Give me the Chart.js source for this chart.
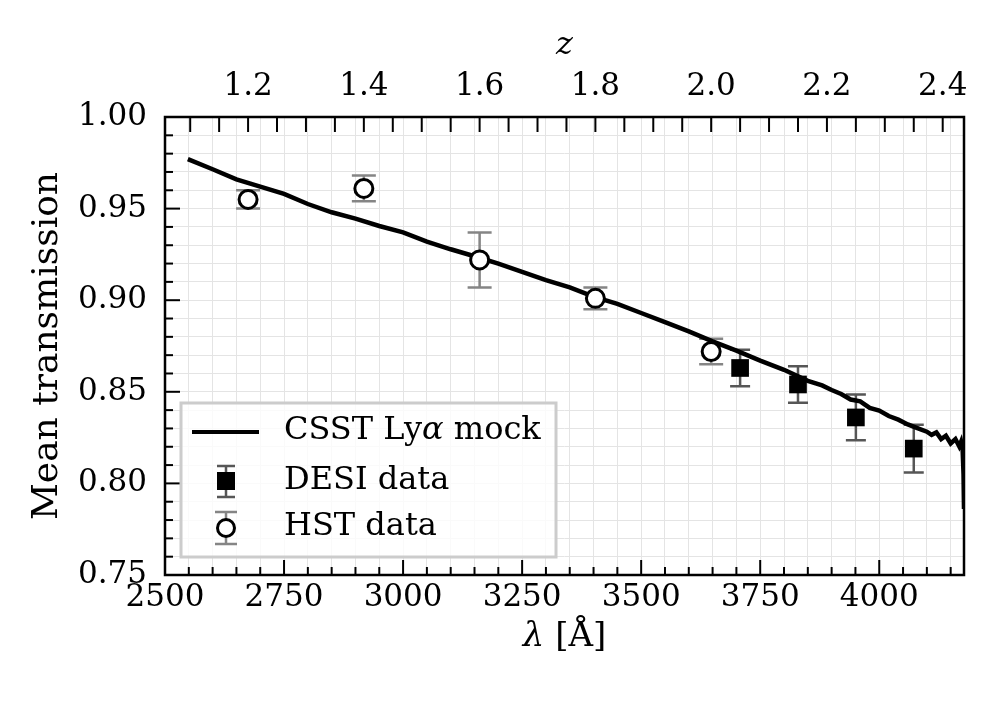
<!DOCTYPE html>
<html>
<head>
<meta charset="utf-8">
<script src="https://cdn.jsdelivr.net/npm/chart.js@4.4.1/dist/chart.umd.min.js"></script>
<style>
  html, body { margin: 0; padding: 0; background: #fff; }
  #c { display: block; }
</style>
</head>
<body>
<canvas id="c" width="996" height="713"></canvas>
<script>
// Lyman alpha rest wavelength, used to map z <-> lambda
const LYA = 1215.67;

// CSST Lya mock mean transmission curve
const mockLambda = [2548, 2600, 2650, 2700, 2750, 2800, 2850, 2900, 2950, 3000,
  3050, 3100, 3150, 3200, 3250, 3300, 3350, 3400, 3450, 3500,
  3550, 3600, 3650, 3700, 3750, 3800, 3850, 3880, 3900, 3920, 3940,
  3960, 3980, 4000, 4020, 4040, 4060, 4080, 4100, 4110, 4120,
  4130, 4140, 4150, 4160, 4168, 4172, 4175, 4177, 4178];
const mockTrans = [0.977, 0.9715, 0.966, 0.962, 0.958, 0.9525, 0.948, 0.9445, 0.9405, 0.937,
  0.932, 0.9278, 0.924, 0.920, 0.9155, 0.911, 0.907, 0.902, 0.898, 0.893,
  0.888, 0.883, 0.8775, 0.8725, 0.867, 0.862, 0.856, 0.8535, 0.851, 0.8488, 0.8458,
  0.8448, 0.8412, 0.8398, 0.8368, 0.8348, 0.8322, 0.8302, 0.8282, 0.8265, 0.8278,
  0.8242, 0.826, 0.8218, 0.8242, 0.8202, 0.8228, 0.8192, 0.805, 0.786];

// HST points
const hstZ = [1.2, 1.4, 1.6, 1.8, 2.0];
const hstTrans = [0.955, 0.961, 0.922, 0.901, 0.872];
const hstErr = [0.005, 0.007, 0.015, 0.006, 0.007];

// DESI points
const desiZ = [2.05, 2.15, 2.25, 2.35];
const desiTrans = [0.863, 0.854, 0.836, 0.819];
const desiErr = [0.010, 0.010, 0.0125, 0.013];

// ticks
const xMin = 2500, xMax = 4178;
const yMin = 0.75, yMax = 1.00;
const xLabelTicks = [2500, 2750, 3000, 3250, 3500, 3750, 4000];
const yLabelTicks = [0.75, 0.80, 0.85, 0.90, 0.95, 1.00];
const zLabelTicks = [1.2, 1.4, 1.6, 1.8, 2.0, 2.2, 2.4];
const xMinorStep = 50, yMinorStep = 0.01, zMinorStep = 0.05;

const FONT = "'DejaVu Serif', serif";

const xTickValues = [];
for (let v = xMin; v <= xMax; v += xMinorStep) xTickValues.push(v);
const yTickValues = [];
for (let i = Math.round(yMin / yMinorStep); i <= Math.round(yMax / yMinorStep); i++) yTickValues.push(+(i * yMinorStep).toFixed(2));
const zTickValues = [];
for (let i = 22; i <= 48; i++) {
  const z = +(i * zMinorStep).toFixed(2);
  if (LYA * (1 + z) >= xMin && LYA * (1 + z) <= xMax) zTickValues.push(z);
}

const isMajorZ = z => zLabelTicks.some(m => Math.abs(m - z) < 1e-6);
const isMajorY = v => yLabelTicks.some(m => Math.abs(m - v) < 1e-6);

// error bars drawn behind the markers
const errorBars = {
  id: 'errorBars',
  beforeDatasetsDraw(chart) {
    const { ctx, scales: { x, y } } = chart;
    const sets = [
      { z: hstZ, t: hstTrans, e: hstErr, color: '#858585', cap: 12 },
      { z: desiZ, t: desiTrans, e: desiErr, color: '#565656', cap: 10 }
    ];
    ctx.save();
    ctx.lineWidth = 2.5;
    sets.forEach(s => {
      ctx.strokeStyle = s.color;
      s.z.forEach((z, i) => {
        const px = x.getPixelForValue(LYA * (1 + z));
        const y1 = y.getPixelForValue(s.t[i] + s.e[i]);
        const y2 = y.getPixelForValue(s.t[i] - s.e[i]);
        ctx.beginPath();
        ctx.moveTo(px, y1); ctx.lineTo(px, y2);
        ctx.moveTo(px - s.cap, y1); ctx.lineTo(px + s.cap, y1);
        ctx.moveTo(px - s.cap, y2); ctx.lineTo(px + s.cap, y2);
        ctx.stroke();
      });
    });
    ctx.restore();
  }
};

// frame with inward ticks (matplotlib style)
const frameTicks = {
  id: 'frameTicks',
  afterDatasetsDraw(chart) {
    const { ctx, chartArea: a, scales: { x, y, x2 } } = chart;
    ctx.save();
    ctx.strokeStyle = '#000';
    ctx.lineWidth = 2;
    const seg = (x1, y1, x2_, y2) => { ctx.beginPath(); ctx.moveTo(x1, y1); ctx.lineTo(x2_, y2); ctx.stroke(); };
    xTickValues.forEach(v => {
      const px = x.getPixelForValue(v);
      seg(px, a.bottom, px, a.bottom - (xLabelTicks.includes(v) ? 15 : 8));
    });
    yTickValues.forEach(v => {
      const py = y.getPixelForValue(v);
      seg(a.left, py, a.left + (isMajorY(v) ? 15 : 8), py);
    });
    zTickValues.forEach(z => {
      const px = x2.getPixelForValue(LYA * (1 + z));
      seg(px, a.top, px, a.top + 15);
    });
    ctx.lineWidth = 2.5;
    ctx.strokeRect(a.left, a.top, a.right - a.left, a.bottom - a.top);
    ctx.restore();
  }
};

// legend box and the bottom axis label
const legendAndLabel = {
  id: 'legendAndLabel',
  afterDraw(chart) {
    const { ctx, chartArea: a } = chart;
    ctx.save();
    // bottom label: italic lambda + [Å]
    ctx.font = `italic 34px ${FONT}`;
    const w1 = ctx.measureText('λ').width;
    ctx.font = `34px ${FONT}`;
    const w2 = ctx.measureText(' [Å]').width;
    const cx = (a.left + a.right) / 2;
    let sx = cx - (w1 + w2) / 2;
    ctx.fillStyle = '#000';
    ctx.textBaseline = 'middle';
    ctx.textAlign = 'left';
    ctx.font = `italic 34px ${FONT}`;
    ctx.fillText('λ', sx, 637);
    ctx.font = `34px ${FONT}`;
    ctx.fillText(' [Å]', sx + w1, 637);

    // legend frame
    ctx.fillStyle = 'rgba(255,255,255,0.8)';
    ctx.fillRect(181, 403, 375, 154);
    ctx.strokeStyle = '#cccccc';
    ctx.lineWidth = 3;
    ctx.strokeRect(181, 403, 375, 154);

    // mock line sample
    ctx.strokeStyle = '#000';
    ctx.lineWidth = 4;
    ctx.beginPath(); ctx.moveTo(192, 432); ctx.lineTo(259, 432); ctx.stroke();

    // DESI sample
    ctx.strokeStyle = '#565656';
    ctx.lineWidth = 2.5;
    ctx.beginPath();
    ctx.moveTo(226, 466); ctx.lineTo(226, 497);
    ctx.moveTo(217, 466); ctx.lineTo(235, 466);
    ctx.moveTo(217, 497); ctx.lineTo(235, 497);
    ctx.stroke();
    ctx.fillStyle = '#000';
    ctx.fillRect(217, 472, 18, 18);

    // HST sample
    ctx.strokeStyle = '#858585';
    ctx.beginPath();
    ctx.moveTo(226, 512); ctx.lineTo(226, 544);
    ctx.moveTo(215, 512); ctx.lineTo(237, 512);
    ctx.moveTo(215, 544); ctx.lineTo(237, 544);
    ctx.stroke();
    ctx.beginPath();
    ctx.arc(226, 528, 8.5, 0, Math.PI * 2);
    ctx.fillStyle = '#fff'; ctx.fill();
    ctx.strokeStyle = '#000'; ctx.lineWidth = 3; ctx.stroke();

    // legend texts
    ctx.fillStyle = '#000';
    ctx.textBaseline = 'middle';
    ctx.font = `32px ${FONT}`;
    let tx = 284;
    ctx.fillText('CSST Ly', tx, 431);
    tx += ctx.measureText('CSST Ly').width;
    ctx.font = `italic 32px ${FONT}`;
    ctx.fillText('α', tx, 431);
    tx += ctx.measureText('α').width;
    ctx.font = `32px ${FONT}`;
    ctx.fillText(' mock', tx, 431);
    ctx.fillText('DESI data', 284, 481);
    ctx.fillText('HST data', 284, 527);
    ctx.restore();
  }
};

new Chart(document.getElementById('c'), {
  type: 'scatter',
  data: {
    datasets: [
      {
        label: 'HST data',
        data: hstZ.map((z, i) => ({ x: LYA * (1 + z), y: hstTrans[i] })),
        pointStyle: 'circle',
        pointRadius: 9,
        backgroundColor: '#fff',
        borderColor: '#000',
        borderWidth: 3
      },
      {
        label: 'DESI data',
        data: desiZ.map((z, i) => ({ x: LYA * (1 + z), y: desiTrans[i] })),
        pointStyle: 'rect',
        pointRadius: 12.5,
        backgroundColor: '#000',
        borderColor: '#000',
        borderWidth: 0
      },
      {
        label: 'CSST Lyα mock',
        data: mockLambda.map((l, i) => ({ x: l, y: mockTrans[i] })),
        showLine: true,
        pointRadius: 0,
        borderColor: '#000',
        borderWidth: 4.5,
        tension: 0
      }
    ]
  },
  options: {
    responsive: false,
    devicePixelRatio: 1,
    animation: false,
    layout: { padding: { left: 0, right: 32, top: 0, bottom: 0 } },
    plugins: {
      legend: { display: false },
      tooltip: { enabled: false }
    },
    scales: {
      x: {
        type: 'linear',
        position: 'bottom',
        min: xMin,
        max: xMax,
        afterBuildTicks: s => { s.ticks = xTickValues.map(v => ({ value: v })); },
        afterFit: s => { s.height = 138; },
        grid: { color: '#e4e4e4', lineWidth: 1, drawTicks: false },
        border: { display: false },
        ticks: {
          autoSkip: false,
          maxRotation: 0,
          padding: 4,
          color: '#000',
          font: { family: FONT, size: 31 },
          callback: v => xLabelTicks.includes(v) ? String(v) : ''
        },
        title: { display: false }
      },
      x2: {
        type: 'linear',
        position: 'top',
        min: xMin,
        max: xMax,
        afterBuildTicks: s => { s.ticks = zTickValues.map(z => ({ value: LYA * (1 + z) })); },
        afterFit: s => { s.height = 117; },
        grid: { display: false, drawTicks: false },
        border: { display: false },
        ticks: {
          autoSkip: false,
          maxRotation: 0,
          padding: 11,
          color: '#000',
          font: { family: FONT, size: 31 },
          callback: v => {
            const z = +(v / LYA - 1).toFixed(2);
            return isMajorZ(z) ? z.toFixed(1) : '';
          }
        },
        title: {
          display: true,
          text: 'z',
          color: '#000',
          padding: { top: 26, bottom: 0 },
          font: { family: FONT, size: 32, style: 'italic' }
        }
      },
      y: {
        type: 'linear',
        position: 'left',
        min: yMin,
        max: yMax,
        afterBuildTicks: s => { s.ticks = yTickValues.map(v => ({ value: v })); },
        afterFit: s => { s.width = 165; },
        grid: { color: '#e4e4e4', lineWidth: 1, drawTicks: false },
        border: { display: false },
        ticks: {
          autoSkip: false,
          padding: 18,
          color: '#000',
          font: { family: FONT, size: 31 },
          callback: v => isMajorY(v) ? v.toFixed(2) : ''
        },
        title: {
          display: true,
          text: 'Mean transmission',
          color: '#000',
          padding: { top: 26, bottom: 0 },
          font: { family: FONT, size: 36 }
        }
      }
    }
  },
  plugins: [errorBars, frameTicks, legendAndLabel]
});
</script>
</body>
</html>
